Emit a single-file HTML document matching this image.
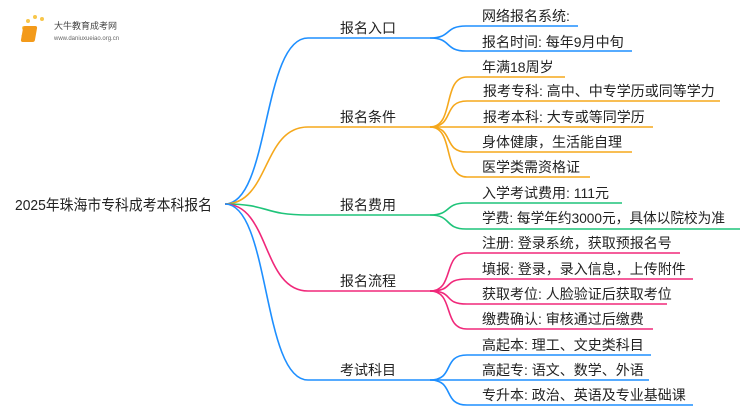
<!DOCTYPE html>
<html><head><meta charset="utf-8"><style>
body{margin:0;background:#fff;}
svg{display:block;font-family:"Liberation Sans","Noto Sans CJK SC",sans-serif;}
text{fill:#222;font-size:14px;}
</style></head><body>
<svg width="750" height="410" viewBox="0 0 750 410">
<g fill="none" stroke-width="1.6">
<g stroke="#1e8fff">
<path d="M225 204 C270 204 262 38 308 38 L430 38"/>
<path d="M430 38 C452 38 444 26 466 26 L578 26"/>
<path d="M430 38 C452 38 444 51 466 51 L632 51"/>
</g>
<g stroke="#f5a81c">
<path d="M225 204 C270 204 262 127 308 127 L430 127"/>
<path d="M430 127 C455 127 442 77 467 77 L565 77"/>
<path d="M430 127 C455 127 442 101 467 101 L720 101"/>
<path d="M430 127 L653 127"/>
<path d="M430 127 C455 127 442 152 467 152 L632 152"/>
<path d="M430 127 C455 127 442 177 467 177 L590 177"/>
</g>
<g stroke="#1fc47a">
<path d="M225 204 C270 204 262 215 308 215 L430 215"/>
<path d="M430 215 C452 215 444 203 466 203 L622 203"/>
<path d="M430 215 C452 215 444 229 466 229 L740 229"/>
</g>
<g stroke="#f0287a">
<path d="M225 204 C270 204 262 291 308 291 L430 291"/>
<path d="M430 291 C455 291 442 253 467 253 L680 253"/>
<path d="M430 291 C455 291 442 279 467 279 L693 279"/>
<path d="M430 291 C455 291 442 304 467 304 L667 304"/>
<path d="M430 291 C455 291 442 329 467 329 L653 329"/>
</g>
<g stroke="#1e8fff">
<path d="M225 204 C270 204 262 380 308 380 L430 380"/>
<path d="M430 380 C455 380 442 355 467 355 L651 355"/>
<path d="M430 380 L649 380"/>
<path d="M430 380 C455 380 442 405 467 405 L693 405"/>
</g>
</g>
<text x="15" y="210" style="font-size:15px" textLength="197" lengthAdjust="spacingAndGlyphs">2025年珠海市专科成考本科报名</text>
<text x="340" y="33">报名入口</text>
<text x="340" y="122">报名条件</text>
<text x="340" y="210">报名费用</text>
<text x="340" y="286">报名流程</text>
<text x="340" y="375">考试科目</text>
<text x="482" y="21">网络报名系统:</text>
<text x="482" y="47">报名时间: 每年9月中旬</text>
<text x="482" y="72">年满18周岁</text>
<text x="483" y="96">报考专科: 高中、中专学历或同等学力</text>
<text x="483" y="122">报考本科: 大专或等同学历</text>
<text x="482" y="147">身体健康，生活能自理</text>
<text x="482" y="172">医学类需资格证</text>
<text x="482" y="198">入学考试费用: 111元</text>
<text x="482" y="223" textLength="243" lengthAdjust="spacingAndGlyphs">学费: 每学年约3000元，具体以院校为准</text>
<text x="482" y="248">注册: 登录系统，获取预报名号</text>
<text x="482" y="274">填报: 登录，录入信息，上传附件</text>
<text x="482" y="299">获取考位: 人脸验证后获取考位</text>
<text x="482" y="324">缴费确认: 审核通过后缴费</text>
<text x="482" y="350">高起本: 理工、文史类科目</text>
<text x="482" y="375">高起专: 语文、数学、外语</text>
<text x="482" y="400">专升本: 政治、英语及专业基础课</text>
<g>
<circle cx="24" cy="28" r="2" fill="#f8c64a"/><circle cx="28" cy="21" r="2" fill="#f8c64a"/><circle cx="35" cy="17" r="2" fill="#f8c64a"/><circle cx="42" cy="19" r="2" fill="#f8c64a"/><circle cx="23" cy="36" r="1.5" fill="#f8c64a"/>
<rect x="28" y="26" width="14" height="16" rx="2" fill="#f39a1a" transform="skewX(-10)"/>
<text x="54" y="29" style="font-size:9px;fill:#444">大牛教育成考网</text>
<text x="54" y="40" style="font-size:6px;fill:#666">www.daniuxueiao.org.cn</text>
</g>
</svg>
</body></html>
